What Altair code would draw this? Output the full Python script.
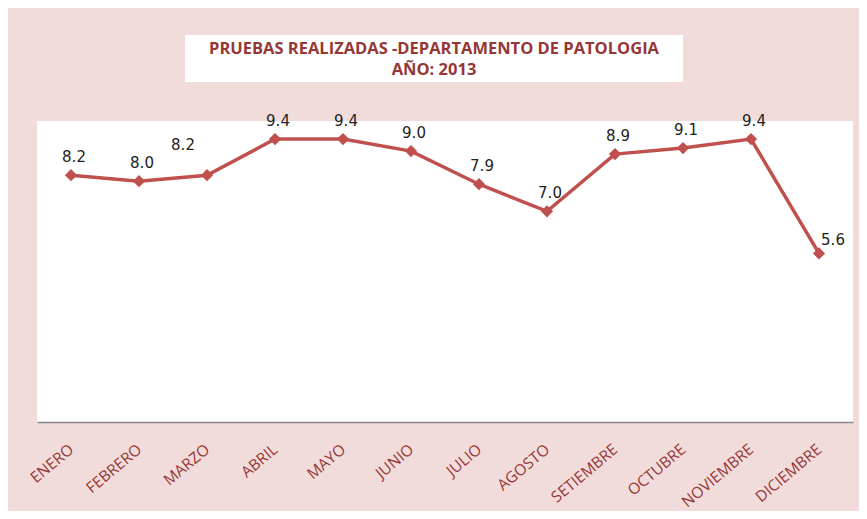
import altair as alt
import pandas as pd

months = ["ENERO", "FEBRERO", "MARZO", "ABRIL", "MAYO", "JUNIO", "JULIO",
          "AGOSTO", "SETIEMBRE", "OCTUBRE", "NOVIEMBRE", "DICIEMBRE"]
values = [8.2, 8.0, 8.2, 9.4, 9.4, 9.0, 7.9, 7.0, 8.9, 9.1, 9.4, 5.6]
title_lines = ["PRUEBAS REALIZADAS -DEPARTAMENTO DE PATOLOGIA", "AÑO: 2013"]

df = pd.DataFrame({"mes": months, "valor": values})
df["etiqueta"] = [f"{v:.1f}" for v in values]

LINE = "#C0504D"
TXT = "#953735"

x = alt.X("mes:N", sort=months, title=None,
          axis=alt.Axis(labelAngle=-40, labelAlign="right", labelBaseline="middle",
                        labelColor=TXT, labelFont="Open Sans", labelFontSize=15.5,
                        labelPadding=25, ticks=False, domainColor="#868686",
                        domainWidth=1.5, grid=False),
          scale=alt.Scale(padding=0.5))
y = alt.Y("valor:Q", scale=alt.Scale(domain=[0, 10]), axis=None)

base = alt.Chart(df).encode(x=x, y=y)

line = base.mark_line(color=LINE, strokeWidth=3.5)
pts = base.mark_point(shape="diamond", filled=True, color=LINE, size=150, opacity=1)

lab_style = dict(font="DejaVu Sans", fontSize=15, color="#222222")
labels = base.transform_filter(
    "datum.mes != 'MARZO' && datum.mes != 'DICIEMBRE'"
).mark_text(dx=3, dy=-18, **lab_style).encode(text="etiqueta:N")
lab_marzo = base.transform_filter("datum.mes == 'MARZO'").mark_text(
    dx=-24, dy=-30, **lab_style).encode(text="etiqueta:N")
lab_dic = base.transform_filter("datum.mes == 'DICIEMBRE'").mark_text(
    dx=14, dy=-13, **lab_style).encode(text="etiqueta:N")

# title box and text (decoration above the plot area)
box = alt.Chart(pd.DataFrame({"a": [0]})).mark_rect(color="white", clip=False).encode(
    x=alt.value(148), x2=alt.value(646), y=alt.value(-86), y2=alt.value(-39))
t1 = alt.Chart(pd.DataFrame({"t": [title_lines[0]]})).mark_text(
    font="Open Sans", fontWeight="bold", fontSize=16.5, color=TXT, clip=False
).encode(text="t:N", x=alt.value(397), y=alt.value(-72))
t2 = alt.Chart(pd.DataFrame({"t": [title_lines[1]]})).mark_text(
    font="Open Sans", fontWeight="bold", fontSize=16.5, color=TXT, clip=False
).encode(text="t:N", x=alt.value(397), y=alt.value(-51))

chart = alt.layer(box, t1, t2, line, pts, labels, lab_marzo, lab_dic).properties(
    width=816, height=301,
    padding={"left": 29, "top": 113, "right": 6, "bottom": 89},
    autosize="none",
    background="#F2DCDB",
).configure_view(fill="white", stroke=None)

chart.save("out.html", embed_options={"renderer": "svg", "actions": False})
